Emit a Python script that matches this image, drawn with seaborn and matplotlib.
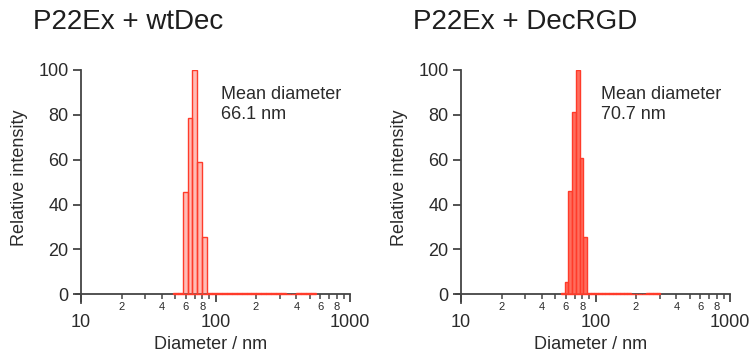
import numpy as np
import pandas as pd
import matplotlib
matplotlib.use("Agg")
import matplotlib.pyplot as plt
from matplotlib.ticker import LogLocator, FixedLocator, FuncFormatter
import seaborn as sns

# ---- data: DLS intensity distributions (bin edges in nm, relative intensity per bin) ----
titles = ["P22Ex + wtDec", "P22Ex + DecRGD"]
mean_labels = ["Mean diameter\n66.1 nm", "Mean diameter\n70.7 nm"]

wt_edges = [48.1, 52.3, 56.9, 61.9, 67.4, 73.3, 79.7, 86.7, 94.3, 102.6, 111.6,
            121.4, 132.1, 143.7, 156.4, 170.1, 185.1, 201.4, 219.1, 238.4, 259.4,
            282.2, 307.0, 334.0, 363.4, 395.4, 430.2, 468.1, 509.3, 554.1]
wt_intensity = [0.8, 0.8, 45.5, 78.5, 100.0, 59.1, 25.7, 0.8, 0.8, 0.8,
                0.8, 0.8, 0.8, 0.8, 0.8, 0.8, 0.8, 0.8, 0.8, 0.8,
                0.8, 0.8, 0.8, 0.0, 0.0, 0.8, 0.8, 0.8, 0.8]

rgd_edges = [55.5, 59.1, 62.9, 67.0, 71.4, 76.0, 81.0, 86.3, 91.9, 97.9, 104.2,
             111.0, 118.2, 125.9, 134.1, 142.8, 152.1, 161.9, 172.5, 183.7, 195.6,
             208.3, 221.9, 236.3, 251.6, 268.0, 285.4, 304.0]
rgd_intensity = [0.8, 5.6, 46.2, 81.1, 100.0, 60.6, 25.7, 0.8, 0.8, 0.8,
                 0.8, 0.8, 0.8, 0.8, 0.8, 0.8, 0.8, 0.8, 0.8, 0.0,
                 0.0, 0.0, 0.0, 0.8, 0.8, 0.8, 0.8]

x_limits = (9.17, 1000)
y_limits = (-4, 100)
y_ticks = [0, 20, 40, 60, 80, 100]

# ---- style ----
sns.set_theme(style="ticks")
plt.rcParams["font.family"] = ["Liberation Sans", "DejaVu Sans"]
ink = "#2b2b2b"
axis_color = "#444444"
bar_edge = "#ff3b2a"
face_colors = [(1.0, 0.38, 0.32, 0.42), (1.0, 0.33, 0.26, 0.85)]

fig = plt.figure(figsize=(7.53, 3.58), dpi=100)
ax_left = [76 / 753, 456 / 753]
axes = [fig.add_axes([l, (358 - 303.3) / 358, 274 / 753, (303.3 - 70) / 358]) for l in ax_left]

panels = [(wt_edges, wt_intensity), (rgd_edges, rgd_intensity)]


def minor_label(v, pos):
    lead = int(round(v / 10 ** np.floor(np.log10(v))))
    return str(lead) if lead in (2, 4, 6, 8) else ""


for ax, (edges, inten), title, mean_txt, fc in zip(axes, panels, titles, mean_labels, face_colors):
    e = np.asarray(edges)
    centers = np.sqrt(e[:-1] * e[1:])
    df = pd.DataFrame({"diameter": centers, "intensity": inten})
    sns.histplot(data=df, x="diameter", weights="intensity",
                 bins=list(np.log10(e)),
                 log_scale=True, stat="count", element="bars", fill=True,
                 facecolor=fc, edgecolor=bar_edge, linewidth=1.0, zorder=3, ax=ax)

    ax.set_xlim(*x_limits)
    ax.set_ylim(*y_limits)

    for s in ("top", "right"):
        ax.spines[s].set_visible(False)
    ax.spines["left"].set_position(("data", 10))
    ax.spines["bottom"].set_position(("data", 0))
    for s in ("left", "bottom"):
        ax.spines[s].set_color(axis_color)
        ax.spines[s].set_linewidth(1.3)

    ax.yaxis.set_major_locator(FixedLocator(y_ticks))
    ax.xaxis.set_major_locator(FixedLocator([10, 100, 1000]))
    ax.xaxis.set_major_formatter(FuncFormatter(lambda v, p: f"{int(v)}"))
    ax.xaxis.set_minor_locator(LogLocator(base=10, subs=np.arange(2, 10), numticks=20))
    ax.xaxis.set_minor_formatter(FuncFormatter(minor_label))

    ax.tick_params(axis="y", which="major", direction="out", length=6, width=1.3,
                   color=axis_color, labelsize=13, labelcolor=ink, pad=3)
    ax.tick_params(axis="x", which="major", direction="out", length=5.5, width=1.3,
                   color=axis_color, labelsize=13, labelcolor=ink, pad=8.5)
    ax.tick_params(axis="x", which="minor", direction="out", length=3.5, width=1.1,
                   color=axis_color, labelsize=8, labelcolor=ink, pad=2.2)

    ax.set_xlabel("Diameter / nm", fontsize=13, color=ink)
    ax.set_ylabel("Relative intensity", fontsize=13, color=ink)
    ax.xaxis.set_label_coords(0.49, -0.14)
    ax.yaxis.set_label_coords(-0.175, 0.54)

    ax.text(109, 93, mean_txt, fontsize=13, color=ink, va="top", ha="left",
            linespacing=1.25)
    ax.set_facecolor("white")

fig.text(33 / 753, 1 - 22 / 358, titles[0], fontsize=20, color="#1e1e1e", va="center", ha="left")
fig.text(413 / 753, 1 - 22 / 358, titles[1], fontsize=20, color="#1e1e1e", va="center", ha="left")

fig.savefig("out.png", dpi=100, facecolor="white")
